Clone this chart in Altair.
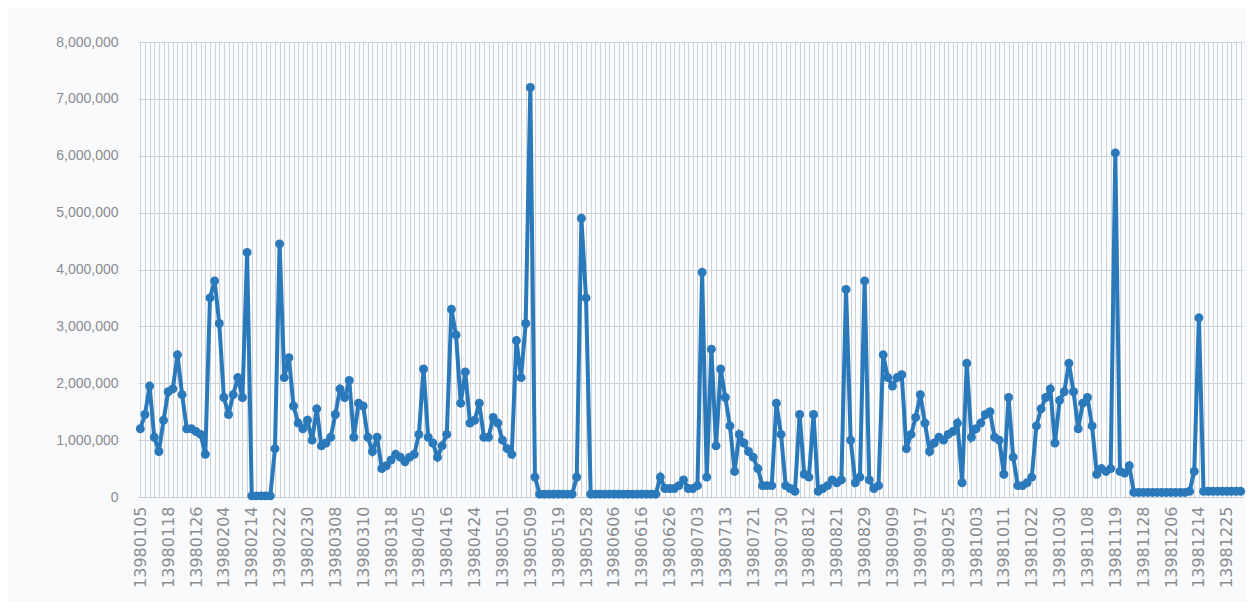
import altair as alt
import pandas as pd

# Category tick labels (every 6th trading day is labelled)
tick_labels = [
    "13980105", "13980118", "13980126", "13980204", "13980214", "13980222",
    "13980230", "13980308", "13980310", "13980318", "13980405", "13980416",
    "13980424", "13980501", "13980509", "13980519", "13980528", "13980606",
    "13980616", "13980626", "13980703", "13980713", "13980721", "13980730",
    "13980812", "13980821", "13980829", "13980909", "13980917", "13980925",
    "13981003", "13981011", "13981022", "13981030", "13981108", "13981119",
    "13981128", "13981206", "13981214", "13981225",
]
label_step = 6

# Series values
values = [
    1200000, 1450000, 1950000, 1050000, 800000, 1350000, 1850000, 1900000, 2500000, 1800000,
    1200000, 1200000, 1150000, 1100000, 750000, 3500000, 3800000, 3050000, 1750000, 1450000,
    1800000, 2100000, 1750000, 4300000, 20000, 20000, 20000, 20000, 20000, 850000,
    4450000, 2100000, 2450000, 1600000, 1300000, 1200000, 1350000, 1000000, 1550000, 900000,
    950000, 1050000, 1450000, 1900000, 1750000, 2050000, 1050000, 1650000, 1600000, 1050000,
    800000, 1050000, 500000, 550000, 650000, 750000, 700000, 620000, 700000, 750000,
    1100000, 2250000, 1050000, 950000, 700000, 900000, 1100000, 3300000, 2850000, 1650000,
    2200000, 1300000, 1350000, 1650000, 1050000, 1050000, 1400000, 1300000, 1000000, 850000,
    750000, 2750000, 2100000, 3050000, 7200000, 350000, 50000, 50000, 50000, 50000,
    50000, 50000, 50000, 50000, 350000, 4900000, 3500000, 50000, 50000, 50000,
    50000, 50000, 50000, 50000, 50000, 50000, 50000, 50000, 50000, 50000,
    50000, 50000, 350000, 150000, 150000, 150000, 200000, 300000, 150000, 150000,
    200000, 3950000, 350000, 2600000, 900000, 2250000, 1750000, 1250000, 450000, 1100000,
    950000, 800000, 700000, 500000, 200000, 200000, 200000, 1650000, 1100000, 200000,
    150000, 100000, 1450000, 400000, 350000, 1450000, 100000, 150000, 200000, 300000,
    250000, 300000, 3650000, 1000000, 250000, 350000, 3800000, 300000, 150000, 200000,
    2500000, 2100000, 1950000, 2100000, 2150000, 850000, 1100000, 1400000, 1800000, 1300000,
    800000, 950000, 1050000, 1000000, 1100000, 1150000, 1300000, 250000, 2350000, 1050000,
    1200000, 1300000, 1450000, 1500000, 1050000, 1000000, 400000, 1750000, 700000, 200000,
    200000, 250000, 350000, 1250000, 1550000, 1750000, 1900000, 950000, 1700000, 1850000,
    2350000, 1850000, 1200000, 1650000, 1750000, 1250000, 400000, 500000, 450000, 500000,
    6050000, 450000, 420000, 550000, 80000, 80000, 80000, 80000, 80000, 80000,
    80000, 80000, 80000, 80000, 80000, 80000, 100000, 450000, 3150000, 100000,
    100000, 100000, 100000, 100000, 100000, 100000, 100000, 100000,
]

y_ticks = [0, 1000000, 2000000, 3000000, 4000000, 5000000, 6000000, 7000000, 8000000]

df = pd.DataFrame({"idx": list(range(len(values))), "value": values})

js_labels = "[" + ",".join("'" + t + "'" for t in tick_labels) + "]"
label_expr = (
    f"datum.value % {label_step} == 0 ? {js_labels}[floor(datum.value / {label_step})] : ''"
)

blue = "#2a79bb"
grid = "#cdd2d8"
text_col = "#8a8c90"

chart = (
    alt.Chart(df)
    .mark_line(
        color=blue,
        strokeWidth=4,
        point=alt.OverlayMarkDef(filled=True, size=80, color=blue, opacity=1),
    )
    .encode(
        x=alt.X(
            "idx:O",
            title=None,
            scale=alt.Scale(type="point", padding=0.5),
            axis=alt.Axis(
                labelExpr=label_expr,
                labelAngle=270,
                labelAlign="right",
                labelBaseline="middle",
                labelPadding=9,
                labelOverlap=False,
                labelFont="DejaVu Sans",
                labelFontSize=16,
                labelColor=text_col,
                ticks=False,
                grid=True,
                gridColor=grid,
                gridWidth=1,
                domainColor="#c8ccd0",
            ),
        ),
        y=alt.Y(
            "value:Q",
            title=None,
            scale=alt.Scale(domain=[0, 8000000], nice=False),
            axis=alt.Axis(
                values=y_ticks,
                format=",.0f",
                ticks=False,
                domain=False,
                labelPadding=20,
                labelFont="Liberation Sans",
                labelFontSize=14,
                labelColor=text_col,
                gridColor=grid,
                gridWidth=1,
            ),
        ),
    )
    .properties(
        width=1105,
        height=455,
        autosize=alt.AutoSizeParams(type="none"),
        padding={"left": 130, "top": 34, "right": 4, "bottom": 105},
        background="#f8fafc",
    )
    .configure_view(stroke=None, fill="#fbfcfd")
)

chart.save("out.html", embed_options={"renderer": "svg", "actions": False})
